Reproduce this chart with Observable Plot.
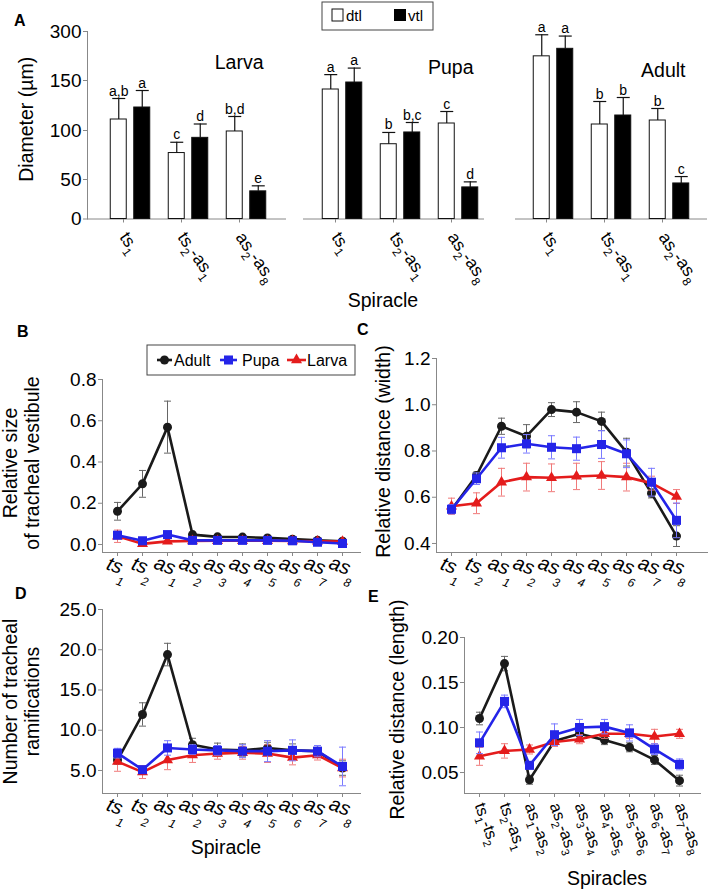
<!DOCTYPE html>
<html><head><meta charset="utf-8">
<script src="https://cdn.jsdelivr.net/npm/d3@7"></script>
<script src="https://cdn.jsdelivr.net/npm/@observablehq/plot@0.6"></script>
<style>
html,body{margin:0;padding:0;background:#fff;overflow:hidden;}
#fig{position:relative;width:709px;height:892px;font-family:"Liberation Sans",Arial,sans-serif;}
#fig svg{position:absolute;left:0;top:0;}
</style></head><body><div id="fig"></div>
<script>
const FONT = '"Liberation Sans", Arial, sans-serif';

// ---------- Panel A data ----------
const stagesA = ["Larva", "Pupa", "Adult"];
const groupsA = ["ts_1", "ts_2-as_1", "as_2-as_8"];
const dtlLarva = [111, 77, 99],   dtlLarvaErr = [21, 11, 15];
const vtlLarva = [123, 92.5, 35], vtlLarvaErr = [17, 14, 7];
const dtlPupa = [141, 86, 107],   dtlPupaErr = [27, 12, 12];
const vtlPupa = [148, 98, 40],    vtlPupaErr = [40, 10, 7];
const dtlAdult = [224, 106, 110], dtlAdultErr = [66, 23, 12];
const vtlAdult = [247, 115, 45],  vtlAdultErr = [39, 18, 8];
const dtlLetters = {Larva: ["a,b", "c", "b,d"], Pupa: ["a", "b", "c"], Adult: ["a", "b", "b"]};
const vtlLetters = {Larva: ["a", "d", "e"], Pupa: ["a", "b,c", "d"], Adult: ["a", "b", "c"]};
const yTicksA = [0, 50, 100, 150, 300];

// ---------- Panels B-D data ----------
const spiracles = ["ts_1", "ts_2", "as_1", "as_2", "as_3", "as_4", "as_5", "as_6", "as_7", "as_8"];
const bAdult = [0.161, 0.294, 0.569, 0.048, 0.037, 0.036, 0.032, 0.026, 0.020, 0.016];
const bAdultErr = [0.043, 0.065, 0.126, 0.005, 0.004, 0.004, 0.004, 0.003, 0.003, 0.003];
const bPupa = [0.045, 0.018, 0.048, 0.020, 0.020, 0.020, 0.020, 0.018, 0.011, 0.005];
const bPupaErr = [0.015, 0.005, 0.015, 0.005, 0.004, 0.004, 0.004, 0.004, 0.003, 0.003];
const bLarva = [0.040, 0.003, 0.015, 0.017, 0.018, 0.018, 0.018, 0.017, 0.015, 0.014];
const bLarvaErr = [0.030, 0.004, 0.005, 0.004, 0.003, 0.003, 0.003, 0.003, 0.003, 0.003];

const cAdult = [0.546, 0.694, 0.907, 0.864, 0.979, 0.968, 0.928, 0.795, 0.617, 0.432];
const cAdultErr = [0.015, 0.015, 0.035, 0.050, 0.030, 0.045, 0.040, 0.060, 0.020, 0.045];
const cPupa = [0.548, 0.680, 0.814, 0.831, 0.816, 0.810, 0.828, 0.788, 0.665, 0.500];
const cPupaErr = [0.020, 0.025, 0.045, 0.040, 0.050, 0.050, 0.060, 0.060, 0.060, 0.075];
const cLarva = [0.561, 0.574, 0.665, 0.687, 0.684, 0.690, 0.694, 0.687, 0.661, 0.603];
const cLarvaErr = [0.035, 0.045, 0.060, 0.060, 0.060, 0.057, 0.060, 0.060, 0.030, 0.030];

const dAdult = [6.3, 11.96, 19.4, 8.2, 7.6, 7.5, 7.8, 7.5, 7.4, 5.3];
const dAdultErr = [0.5, 1.45, 1.4, 0.8, 0.8, 0.8, 0.7, 0.8, 0.7, 0.9];
const dPupa = [7.15, 5.1, 7.8, 7.6, 7.5, 7.4, 7.4, 7.5, 7.4, 5.5];
const dPupaErr = [0.6, 0.3, 0.9, 0.6, 0.6, 0.8, 1.3, 1.3, 0.7, 2.4];
const dLarva = [6.1, 4.8, 6.3, 6.9, 7.1, 7.2, 7.1, 6.6, 6.9, 5.3];
const dLarvaErr = [1.2, 0.8, 1.2, 0.9, 0.7, 0.8, 1.1, 0.9, 0.6, 1.1];

// ---------- Panel E data ----------
const segments = ["ts_1-ts_2", "ts_2-as_1", "as_1-as_2", "as_2-as_3", "as_3-as_4", "as_4-as_5", "as_5-as_6", "as_6-as_7", "as_7-as_8"];
const eAdult = [0.110, 0.171, 0.042, 0.085, 0.093, 0.086, 0.078, 0.064, 0.041];
const eAdultErr = [0.007, 0.008, 0.005, 0.005, 0.005, 0.005, 0.005, 0.005, 0.006];
const ePupa = [0.083, 0.129, 0.058, 0.092, 0.100, 0.101, 0.094, 0.076, 0.059];
const ePupaErr = [0.012, 0.007, 0.004, 0.012, 0.009, 0.008, 0.009, 0.006, 0.006];
const eLarva = [0.068, 0.074, 0.0756, 0.084, 0.087, 0.093, 0.093, 0.090, 0.093];
const eLarvaErr = [0.010, 0.008, 0.005, 0.005, 0.005, 0.005, 0.005, 0.008, 0.005];

// ---------- helpers ----------
const hcap = {draw(ctx, size) { const w = Math.sqrt(size / Math.PI); ctx.moveTo(-w, 0); ctx.lineTo(w, 0); }};
const fig = document.getElementById("fig");

function subify(svg, {subSize, subDy, subDx = 0, italic = false, anchor = null}) {
  d3.select(svg).selectAll('g[aria-label="x-axis tick label"] text').each(function () {
    const t = d3.select(this);
    const s = t.text();
    if (italic) t.attr("font-style", "italic");
    if (anchor) t.attr("text-anchor", anchor);
    t.text(null);
    let buf = "", low = false;
    const flush = () => {
      if (buf) { const ts = t.append("tspan").text(buf); if (low) { ts.attr("dy", -subDy); low = false; } buf = ""; }
    };
    for (let i = 0; i < s.length; i++) {
      if (s[i] === "_" && i + 1 < s.length) {
        flush();
        const ts = t.append("tspan").text(s[i + 1]).attr("font-size", subSize);
        if (!low) { ts.attr("dy", subDy); low = true; }
        if (subDx) ts.attr("dx", subDx);
        i++;
      } else buf += s[i];
    }
    flush();
  });
}

const baseStyle = {background: "transparent", fontFamily: FONT, color: "#000"};

// ---------- Panel A (broken axis: piecewise mapping of the value axis) ----------
const brokenA = d3.scaleLinear().domain(yTicksA).range([0, 39.5, 88.5, 138.5, 187.5]);
const valsA = {Larva: [dtlLarva, dtlLarvaErr, vtlLarva, vtlLarvaErr], Pupa: [dtlPupa, dtlPupaErr, vtlPupa, vtlPupaErr], Adult: [dtlAdult, dtlAdultErr, vtlAdult, vtlAdultErr]};
const rowsA = [];
for (const st of stagesA) {
  const [dv, de, vv, ve] = valsA[st];
  groupsA.forEach((g, i) => {
    rowsA.push({stage: st, group: g, tissue: "dtl", value: dv[i], hi: dv[i] + de[i], letter: dtlLetters[st][i]});
    rowsA.push({stage: st, group: g, tissue: "vtl", value: vv[i], hi: vv[i] + ve[i], letter: vtlLetters[st][i]});
  });
}

function chartA(stage, ml, mr, c0, c2, withY, ldx, ldy) {
  const rows = rowsA.filter(d => d.stage === stage);
  const bw = 16.5, step = (c2 - c0) / 2, off = 11.75;
  const Y = d => brokenA(d.value), H = d => brokenA(d.hi);
  const marks = [Plot.frame({anchor: "bottom", stroke: "#888"})];
  if (withY) {
    marks.push(Plot.frame({anchor: "left", stroke: "#888"}));
    marks.push(Plot.axisY({ticks: yTicksA.map(brokenA), tickFormat: (d, i) => yTicksA[i], tickSize: 4, tickPadding: 2, fontSize: 19, stroke: "#888", label: null}));
    marks.push(Plot.text(["Diameter (µm)"], {text: d => d, frameAnchor: "left", textAnchor: "middle", rotate: -90, dx: -61, dy: -6, fontSize: 19.5}));
  }
  marks.push(Plot.axisX({tickSize: 4, tickPadding: 11, tickRotate: 55, fontSize: 17.5, stroke: "#888", label: null, dx: -7}));
  for (const [tissue, dx, fill] of [["dtl", -off, "#fff"], ["vtl", off, "#000"]]) {
    const r = rows.filter(d => d.tissue === tissue);
    marks.push(Plot.barY(r, {x: "group", y1: 0, y2: Y, dx, fill, stroke: "#111", strokeWidth: 1}));
    marks.push(Plot.ruleX(r, {x: "group", y1: Y, y2: H, dx, stroke: "#111", strokeWidth: 1.2}));
    marks.push(Plot.dot(r, {x: "group", y: H, dx, symbol: hcap, r: 6.5, stroke: "#111", strokeWidth: 1.2}));
    marks.push(Plot.text(r, {x: "group", y: H, dx, dy: -3, text: "letter", lineAnchor: "bottom", fontSize: 14}));
  }
  marks.push(Plot.text([stage], {text: d => d, frameAnchor: "top-right", textAnchor: "end", lineAnchor: "top", dx: ldx, dy: ldy, fontSize: 19.5}));
  const svg = Plot.plot({
    width: 709, height: 892, marginLeft: ml, marginRight: mr, marginTop: 31, marginBottom: 892 - 218.5,
    style: baseStyle,
    x: {type: "band", domain: groupsA, range: [c0 - bw / 2, c2 + bw / 2], paddingInner: 1 - bw / step, paddingOuter: 0, label: null},
    y: {domain: [0, 187.5], label: null, axis: withY ? undefined : null},
    marks
  });
  subify(svg, {subSize: 12, subDy: 6});
  fig.appendChild(svg);
}
chartA("Larva", 87, 709 - 285, 129.75, 246.25, true, -22, 24);
chartA("Pupa", 303, 709 - 483, 341.5, 458.5, false, -10, 29);
chartA("Adult", 515, 709 - 706, 553, 670, false, -21, 32);

// ---------- line panels ----------
const adultStyle = {c: "#1a1a1a", ec: "#666", sym: "circle", r: 4.5};
const pupaStyle = {c: "#2424e8", ec: "#7a7aff", sym: "square", r: 5.1};
const larvaStyle = {c: "#e41c1c", ec: "#f07a7a", sym: "triangle", r: 4.1};

function lineChart(o) {
  const marks = [
    Plot.frame({anchor: "left", stroke: "#888"}),
    Plot.frame({anchor: "bottom", stroke: "#888"}),
    Plot.axisY({ticks: o.yticks, tickFormat: d3.format(o.yfmt), tickSize: 4, tickPadding: 2, fontSize: 19, stroke: "#888", label: null}),
    Plot.axisX({tickSize: 4, tickPadding: o.tp, tickRotate: o.rot, fontSize: o.xfs, stroke: "#888", label: null}),
    Plot.text([o.ylabel], {text: d => d, frameAnchor: "left", textAnchor: "middle", rotate: -90, dx: o.ldx, dy: o.ldy, fontSize: 19.5, lineHeight: 1.13, lineAnchor: "middle"})
  ];
  for (const s of o.series) {
    const idx = d3.range(o.xs.length);
    const X = i => o.xs[i];
    marks.push(Plot.ruleX(idx, {x: X, y1: i => s.v[i] - s.e[i], y2: i => s.v[i] + s.e[i], stroke: s.ec, strokeWidth: 1}));
    marks.push(Plot.dot(idx, {x: X, y: i => s.v[i] - s.e[i], symbol: hcap, r: 3.5, stroke: s.ec, strokeWidth: 1}));
    marks.push(Plot.dot(idx, {x: X, y: i => s.v[i] + s.e[i], symbol: hcap, r: 3.5, stroke: s.ec, strokeWidth: 1}));
    marks.push(Plot.line(idx, {x: X, y: i => s.v[i], stroke: s.c, strokeWidth: 2.6}));
    marks.push(Plot.dot(idx, {x: X, y: i => s.v[i], symbol: s.sym, r: s.r, fill: s.c, stroke: "none"}));
  }
  const svg = Plot.plot({
    width: 709, height: 892, marginLeft: o.ml, marginRight: o.mr, marginTop: o.mt, marginBottom: o.mb,
    style: baseStyle,
    x: {type: "point", domain: o.xs, padding: o.pad, align: o.align, label: null},
    y: {domain: o.yd, label: null},
    marks
  });
  subify(svg, o.sub);
  fig.appendChild(svg);
}

lineChart({xs: spiracles, ml: 102, mr: 349, mt: 379, mb: 340, yd: [-0.0388, 0.8], yticks: [0, 0.2, 0.4, 0.6, 0.8], yfmt: ".1f",
  ylabel: "Relative size\nof tracheal vestibule", ldx: -82, ldy: -3, pad: 0.66, align: 0.4545, tp: 10, rot: 20, xfs: 20,
  sub: {subSize: 12, subDy: 11, subDx: -1, italic: true, anchor: "middle"},
  series: [{v: bAdult, e: bAdultErr, ...adultStyle}, {v: bLarva, e: bLarvaErr, ...larvaStyle}, {v: bPupa, e: bPupaErr, ...pupaStyle}]});

lineChart({xs: spiracles, ml: 436, mr: 2, mt: 358, mb: 340, yd: [0.361, 1.2], yticks: [0.4, 0.6, 0.8, 1.0, 1.2], yfmt: ".1f",
  ylabel: "Relative distance (width)", ldx: -54, ldy: -4, pad: 0.872, align: 0.318, tp: 10, rot: 20, xfs: 20,
  sub: {subSize: 12, subDy: 11, subDx: -1, italic: true, anchor: "middle"},
  series: [{v: cAdult, e: cAdultErr, ...adultStyle}, {v: cLarva, e: cLarvaErr, ...larvaStyle}, {v: cPupa, e: cPupaErr, ...pupaStyle}]});

lineChart({xs: spiracles, ml: 102, mr: 349, mt: 609, mb: 99, yd: [2.14, 25], yticks: [5, 10, 15, 20, 25], yfmt: ".1f",
  ylabel: "Number of tracheal\nramifications", ldx: -82, ldy: 0, pad: 0.66, align: 0.4545, tp: 10, rot: 20, xfs: 20,
  sub: {subSize: 12, subDy: 11, subDx: -1, italic: true, anchor: "middle"},
  series: [{v: dAdult, e: dAdultErr, ...adultStyle}, {v: dLarva, e: dLarvaErr, ...larvaStyle}, {v: dPupa, e: dPupaErr, ...pupaStyle}]});

lineChart({xs: segments, ml: 464, mr: 9, mt: 637, mb: 99, yd: [0.0267, 0.2], yticks: [0.05, 0.10, 0.15, 0.20], yfmt: ".2f",
  ylabel: "Relative distance (length)", ldx: -68, ldy: -6, pad: 0.697, align: 0.43, tp: 6, rot: 70, xfs: 16.5,
  sub: {subSize: 11, subDy: 5},
  series: [{v: eAdult, e: eAdultErr, ...adultStyle}, {v: eLarva, e: eLarvaErr, ...larvaStyle}, {v: ePupa, e: ePupaErr, ...pupaStyle}]});

// ---------- annotations: panel letters, axis titles, legends ----------
const ov = d3.select(fig).append("svg").attr("width", 709).attr("height", 892).style("font-family", FONT);
for (const [t, x, y] of [["A", 14, 26], ["B", 17, 337], ["C", 357, 335], ["D", 15, 599], ["E", 368, 602]]) {
  ov.append("text").attr("x", x).attr("y", y).attr("font-size", 16).attr("font-weight", "bold").text(t);
}
for (const [t, x, y] of [["Spiracle", 383, 307], ["Spiracle", 226, 854], ["Spiracles", 607, 885]]) {
  ov.append("text").attr("x", x).attr("y", y).attr("font-size", 19.5).attr("text-anchor", "middle").text(t);
}
// legend A
const lgA = ov.append("g");
lgA.append("rect").attr("x", 322).attr("y", 2).attr("width", 111).attr("height", 28).attr("fill", "#fff").attr("stroke", "#444");
lgA.append("rect").attr("x", 332).attr("y", 9).attr("width", 11).attr("height", 12).attr("fill", "#fff").attr("stroke", "#111");
lgA.append("text").attr("x", 346).attr("y", 21).attr("font-size", 15).text("dtl");
lgA.append("rect").attr("x", 394).attr("y", 9).attr("width", 12).attr("height", 12).attr("fill", "#000");
lgA.append("text").attr("x", 408).attr("y", 21).attr("font-size", 15).text("vtl");
// legend B
const lgB = ov.append("g");
lgB.append("rect").attr("x", 147).attr("y", 345).attr("width", 208).attr("height", 30).attr("fill", "#fff").attr("stroke", "#444");
const legItems = [["Adult", adultStyle, 157, 172, 174], ["Pupa", pupaStyle, 220, 237, 242], ["Larva", larvaStyle, 287, 306, 307]];
const symMap = {circle: d3.symbolCircle, square: d3.symbolSquare, triangle: d3.symbolTriangle};
for (const [name, s, x1, x2, tx] of legItems) {
  lgB.append("line").attr("x1", x1).attr("x2", x2).attr("y1", 360).attr("y2", 360).attr("stroke", s.c).attr("stroke-width", 2.6);
  lgB.append("path").attr("d", d3.symbol(symMap[s.sym], Math.PI * s.r * s.r)()).attr("transform", `translate(${(x1 + x2) / 2},360)`).attr("fill", s.c);
  lgB.append("text").attr("x", tx).attr("y", 366).attr("font-size", 16).text(name);
}
</script></body></html>
